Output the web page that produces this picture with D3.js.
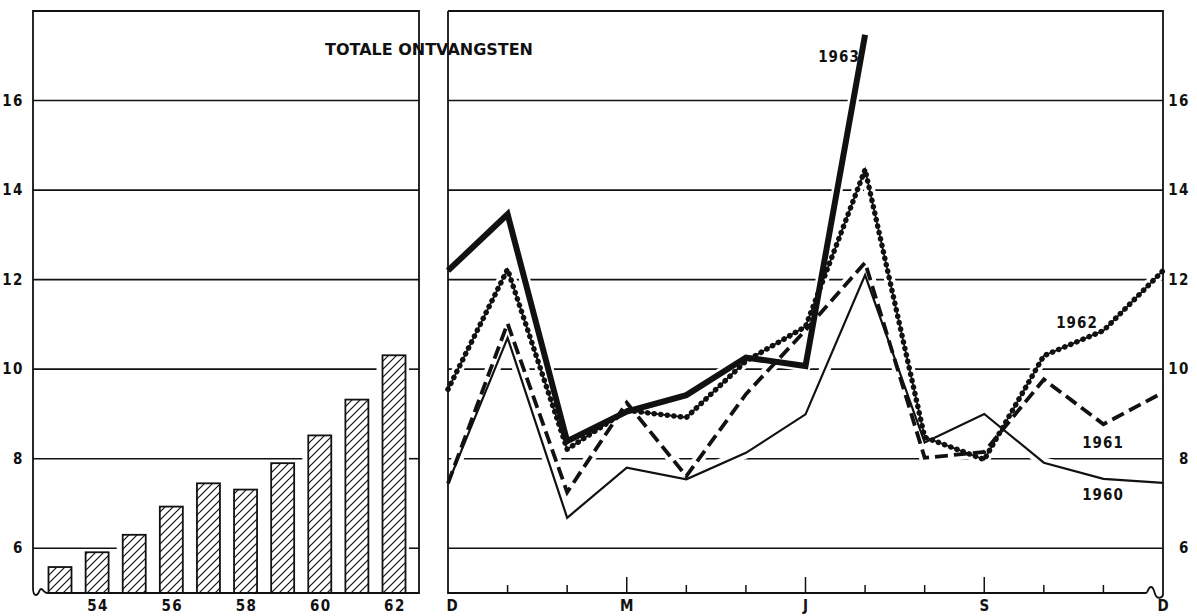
<!DOCTYPE html>
<html><head><meta charset="utf-8">
<script src="https://cdn.jsdelivr.net/npm/d3@7"></script>
<style>body{margin:0;background:#fff}svg{display:block}</style>
</head><body>
<svg id="c" width="1197" height="616"></svg>
<script>
// ---- data ----
const years = [53, 54, 55, 56, 57, 58, 59, 60, 61, 62];
const yearValues = [5.58, 5.91, 6.30, 6.93, 7.45, 7.31, 7.90, 8.52, 9.32, 10.31];
const yearTickLabels = [54, 56, 58, 60, 62];
const months = ["D","J","F","M","A","M","J","J","A","S","O","N","D"];
const monthTickIdx = [0, 3, 6, 9, 12];
const monthTickLabels = ["D", "M", "J", "S", "D"];
const s1963 = [12.2, 13.46, 8.39, 9.05, 9.42, 10.26, 10.07, 17.47];
const s1962 = [9.55, 12.23, 8.21, 9.08, 8.92, 10.18, 10.95, 14.46, 8.48, 7.98, 10.3, 10.86, 12.2];
const s1961 = [7.45, 11.02, 7.25, 9.25, 7.61, 9.44, 10.87, 12.38, 8.02, 8.15, 9.77, 8.77, 9.48];
const s1960 = [7.45, 10.7, 6.68, 7.8, 7.54, 8.13, 8.99, 12.1, 8.36, 9.0, 7.91, 7.55, 7.46];
const seriesNames = ["1960", "1961", "1962", "1963"];
const yTicks = [6, 8, 10, 12, 14, 16];
const title = "TOTALE ONTVANGSTEN";

// ---- layout ----
const NARROW = "'Liberation Sans Narrow','DejaVu Sans Condensed','Liberation Sans',sans-serif";
const svg = d3.select("#c");
const yTop = 11, yBot = 593;
const L = {x0: 33, x1: 419};
const R = {x0: 448, x1: 1163};
const y = d3.scaleLinear().domain([5, 18]).range([yBot, yTop]);
const xl = d3.scaleLinear().domain([53, 62]).range([60, 394]);
const xr = d3.scaleLinear().domain([0, 12]).range([R.x0, R.x1]);
const barW = 23;

const defs = svg.append("defs");
const pat = defs.append("pattern").attr("id", "hatch").attr("patternUnits", "userSpaceOnUse")
  .attr("width", 8).attr("height", 8);
pat.append("path").attr("d", "M-2,2 L2,-2 M0,8 L8,0 M6,10 L10,6")
  .attr("stroke", "#111").attr("stroke-width", 1.2);
defs.append("clipPath").attr("id", "clipR").append("rect")
  .attr("x", R.x0).attr("y", yTop).attr("width", R.x1 - R.x0).attr("height", yBot - yTop);

function label(g, x, yy, t, anchor, ls) {
  return g.append("text").attr("x", x).attr("y", yy).attr("text-anchor", anchor)
    .attr("font-family", NARROW).attr("font-weight", "bold").attr("font-size", 15)
    .attr("letter-spacing", ls).attr("fill", "#111").text(t);
}

// ---- left panel ----
const gL = svg.append("g");
yTicks.forEach(v => {
  const i = years.findIndex((yr, k) => yearValues[k] > v);
  const end = i < 0 ? L.x1 : xl(years[i]) - barW / 2 - 6;
  gL.append("line").attr("x1", L.x0).attr("x2", end).attr("y1", y(v)).attr("y2", y(v))
    .attr("stroke", "#111").attr("stroke-width", 1.6);
  if (i >= 0) gL.append("line").attr("x1", L.x1 - 10).attr("x2", L.x1).attr("y1", y(v)).attr("y2", y(v))
    .attr("stroke", "#111").attr("stroke-width", 1.6);
  label(gL, 24, y(v) + 5, v, "end", 1.5);
});
gL.selectAll("rect.bar").data(years).join("rect").attr("class", "bar")
  .attr("x", d => xl(d) - barW / 2).attr("width", barW)
  .attr("y", (d, i) => y(yearValues[i])).attr("height", (d, i) => yBot - y(yearValues[i]))
  .attr("fill", "url(#hatch)").attr("stroke", "#111").attr("stroke-width", 1.8);
yearTickLabels.forEach(d => label(gL, xl(d) + 1, 611, d, "middle", 1.5));
gL.append("path").attr("fill", "none").attr("stroke", "#111").attr("stroke-width", 1.8)
  .attr("d", `M${L.x0},588 L${L.x0},${yTop} L${L.x1},${yTop} L${L.x1},${yBot} L${L.x0 + 14},${yBot}
   C${L.x0 + 11},${yBot} ${L.x0 + 10},${yBot - 4} ${L.x0 + 8},${yBot - 4}
   C${L.x0 + 6},${yBot - 4} ${L.x0 + 6},${yBot + 2} ${L.x0 + 3},${yBot + 2}
   C${L.x0 + 1},${yBot + 2} ${L.x0},${yBot - 1} ${L.x0},588`);

// ---- right panel ----
const gR = svg.append("g");
yTicks.forEach(v => {
  gR.append("line").attr("x1", R.x0).attr("x2", R.x1).attr("y1", y(v)).attr("y2", y(v))
    .attr("stroke", "#111").attr("stroke-width", 1.6);
  label(gR, 1190, y(v) + 5, v, "end", 1.5);
});
d3.range(1, 12).forEach(i => {
  const major = monthTickIdx.includes(i);
  gR.append("line").attr("x1", xr(i)).attr("x2", xr(i)).attr("y1", yBot).attr("y2", yBot - (major ? 16 : 8))
    .attr("stroke", "#111").attr("stroke-width", 1.5);
});
monthTickIdx.forEach((m, k) => label(gR, xr(m) + (m === 0 ? 4 : 0), 611, monthTickLabels[k], "middle", 0));

// series
const line = d3.line().x((d, i) => xr(i)).y(d => y(d));
const allSeries = [s1960, s1961, s1962, s1963];
const gS = svg.append("g").attr("clip-path", "url(#clipR)");
allSeries.forEach(s => gS.append("path").attr("d", line(s)).attr("fill", "none")
  .attr("stroke", "#fff").attr("stroke-width", 11).attr("stroke-linejoin", "round"));
const gS2 = svg.append("g");
gS2.append("path").attr("d", line(s1960)).attr("fill", "none").attr("stroke", "#111")
  .attr("stroke-width", 2.2);
gS2.append("path").attr("d", line(s1961)).attr("fill", "none").attr("stroke", "#111")
  .attr("stroke-width", 3.8).attr("stroke-dasharray", "13 6");
gS2.append("path").attr("d", line(s1962)).attr("fill", "none").attr("stroke", "#111")
  .attr("stroke-width", 1.8);
gS2.append("path").attr("d", line(s1962)).attr("fill", "none").attr("stroke", "#111")
  .attr("stroke-width", 5.5).attr("stroke-dasharray", "0.1 6.5").attr("stroke-linecap", "round");
gS2.append("path").attr("d", line(s1963)).attr("fill", "none").attr("stroke", "#111")
  .attr("stroke-width", 6);

// right frame on top
svg.append("path").attr("fill", "none").attr("stroke", "#111").attr("stroke-width", 1.8)
  .attr("d", `M${R.x0},${yTop} L${R.x1},${yTop} L${R.x1},${yBot + 1}
   C${R.x1},${yBot + 5} ${R.x1 - 5},${yBot + 6} ${R.x1 - 7},${yBot + 3}
   C${R.x1 - 9},${yBot} ${R.x1 - 9},${yBot - 6} ${R.x1 - 12},${yBot - 6}
   C${R.x1 - 15},${yBot - 6} ${R.x1 - 15},${yBot} ${R.x1 - 17},${yBot}
   L${R.x0},${yBot} L${R.x0},${yTop}`);

// series labels
const labelPos = [[1103, 500], [1103, 448], [1077, 328], [839, 62]];
seriesNames.forEach((n, i) => label(svg, labelPos[i][0], labelPos[i][1], n, "middle", 1));

// title
svg.append("text").attr("x", 325).attr("y", 55).attr("font-family", "'DejaVu Sans',sans-serif")
  .attr("font-weight", "bold").attr("font-size", 16).attr("textLength", 208)
  .attr("lengthAdjust", "spacingAndGlyphs").attr("fill", "#111").text(title);
</script>
</body></html>
